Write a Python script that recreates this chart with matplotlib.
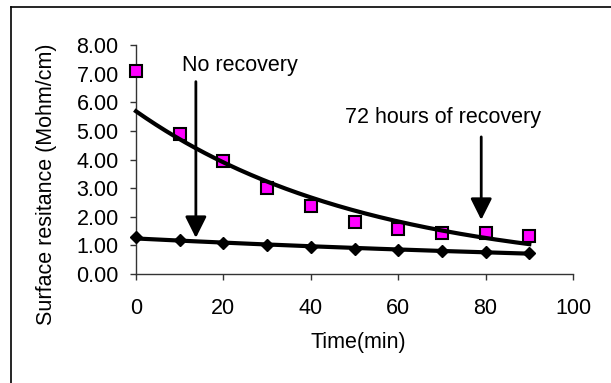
#!/usr/bin/env python3
"""Surface resistance vs time, with and without 72 h of recovery."""

import matplotlib

matplotlib.use("Agg")
import matplotlib.pyplot as plt
from matplotlib.lines import Line2D
from matplotlib.ticker import FormatStrFormatter
import numpy as np

plt.rcParams["font.family"] = ["Liberation Sans", "DejaVu Sans"]

time_min = [0, 10, 20, 30, 40, 50, 60, 70, 80, 90]
recovered = [7.09, 4.88, 3.94, 3.01, 2.37, 1.80, 1.57, 1.42, 1.42, 1.32]
no_recovery = [1.28, 1.18, 1.10, 1.02, 0.95, 0.88, 0.84, 0.79, 0.76, 0.75]

x_ticks = [0, 20, 40, 60, 80, 100]
y_ticks = [0, 1, 2, 3, 4, 5, 6, 7, 8]

FONT = 15.5


def exp_trend(x, y):
    # Excel-style exponential trendline: y = a * exp(b x)
    b, log_a = np.polyfit(x, np.log(y), 1)
    xs = np.linspace(min(x), max(x), 200)
    return xs, np.exp(log_a) * np.exp(b * xs)


def main() -> None:
    figure = plt.figure(figsize=(6.11, 3.83), dpi=100)
    axis = figure.add_axes([136 / 611, 1 - 274 / 383, 437 / 611, 229 / 383])

    axis.plot(
        time_min, recovered, linestyle="none", marker="s", markersize=8.5,
        markerfacecolor="#FF00FF", markeredgecolor="black", markeredgewidth=1.5,
        clip_on=False, zorder=3,
    )
    axis.plot(
        time_min, no_recovery, linestyle="none", marker="D", markersize=6.5,
        markerfacecolor="black", markeredgecolor="black", markeredgewidth=1,
        clip_on=False, zorder=3,
    )
    for series in (recovered, no_recovery):
        xs, ys = exp_trend(np.array(time_min, float), np.array(series))
        axis.plot(xs, ys, color="black", linewidth=3, zorder=4, clip_on=False)

    arrow = dict(
        arrowstyle="-|>,head_length=1.3,head_width=0.65",
        color="black", lw=2, shrinkA=0, shrinkB=0,
    )
    axis.annotate("", xy=(13.7, 1.26), xytext=(13.7, 6.72), arrowprops=arrow,
                  annotation_clip=False, zorder=5)
    axis.annotate("", xy=(79.0, 1.89), xytext=(79.0, 4.79), arrowprops=arrow,
                  annotation_clip=False, zorder=5)
    axis.text(10.5, 7.27, "No recovery", fontsize=FONT, ha="left", va="center")
    axis.text(70.3, 5.45, "72 hours of recovery", fontsize=FONT,
              ha="center", va="center")

    axis.set_xlim(0, 100)
    axis.set_ylim(0, 8)
    axis.set_xticks(x_ticks)
    axis.set_yticks(y_ticks)
    axis.yaxis.set_major_formatter(FormatStrFormatter("%.2f"))
    for side in ("top", "right"):
        axis.spines[side].set_visible(False)
    for side in ("left", "bottom"):
        axis.spines[side].set_color("#333333")
        axis.spines[side].set_linewidth(1)
    axis.tick_params(axis="x", direction="out", length=4, width=1,
                     color="#333333", pad=13, labelsize=FONT)
    axis.tick_params(axis="y", direction="out", length=4, width=1,
                     color="#333333", pad=8.5, labelsize=FONT)

    axis.set_xlabel("Time(min)", fontsize=FONT)
    axis.set_ylabel("Surface resitance (Mohm/cm)", fontsize=FONT)
    axis.xaxis.set_label_coords(0.508, -0.301)
    axis.xaxis.label.set_va("center")
    axis.yaxis.set_label_coords(-0.204, 0.393)
    axis.yaxis.label.set_va("center")

    # chart-area frame (left and top edges visible in the crop)
    left, top = 11 / 611, 1 - 7 / 383
    figure.add_artist(Line2D([left, left], [0, top], color="black", lw=1.2,
                             transform=figure.transFigure))
    figure.add_artist(Line2D([left, 1], [top, top], color="black", lw=1.2,
                             transform=figure.transFigure))

    figure.savefig("out.png", dpi=100)
    plt.close(figure)


if __name__ == "__main__":
    main()
